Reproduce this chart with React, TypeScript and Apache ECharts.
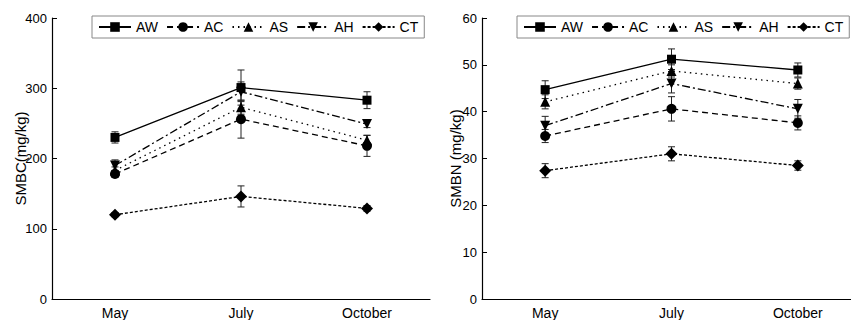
import React, { useEffect, useRef } from "react";
import * as echarts from "echarts";

const months = ["May", "July", "October"];
const seriesNames = ["AW", "AC", "AS", "AH", "CT"];

// SMBC (mg/kg)
const smbcAW = [230, 301, 283];
const smbcAC = [178, 256, 218];
const smbcAS = [183, 273, 226];
const smbcAH = [190, 295, 249];
const smbcCT = [120, 146, 129];
const smbcAWErr = [8, 25, 12];
const smbcACErr = [5, 27, 15];
const smbcASErr = [5, 10, 7];
const smbcAHErr = [8, 14, 5];
const smbcCTErr = [3, 15, 4];

// SMBN (mg/kg)
const smbnAW = [44.7, 51.2, 48.9];
const smbnAC = [34.8, 40.6, 37.6];
const smbnAS = [42.1, 48.7, 46.0];
const smbnAH = [37.0, 46.0, 40.6];
const smbnCT = [27.4, 31.0, 28.5];
const smbnAWErr = [1.9, 2.2, 1.5];
const smbnACErr = [1.4, 2.6, 1.5];
const smbnASErr = [1.5, 1.3, 1.2];
const smbnAHErr = [2.0, 2.0, 2.0];
const smbnCTErr = [1.5, 1.5, 1.0];

const FONT = "'Liberation Sans', Arial, sans-serif";

const styles: Record<string, any> = {
  AW: { symbol: "rect", size: 9, rotate: 0, dash: "solid" },
  AC: { symbol: "circle", size: 10, rotate: 0, dash: [6, 4] },
  AS: { symbol: "triangle", size: 10, rotate: 0, dash: [1.5, 4] },
  AH: { symbol: "triangle", size: 10, rotate: 180, dash: [8, 3, 2, 3] },
  CT: { symbol: "diamond", size: 12, rotate: 0, dash: [3, 2] },
};

function lineSeries(name: string, data: number[], idx: number) {
  const s = styles[name];
  return {
    type: "line",
    name,
    xAxisIndex: idx,
    yAxisIndex: idx,
    data,
    symbol: s.symbol,
    symbolSize: s.size,
    symbolRotate: s.rotate,
    showSymbol: true,
    z: 3,
    lineStyle: { color: "#000", width: 1.3, type: s.dash },
    itemStyle: { color: "#000" },
  };
}

function errSeries(name: string, data: number[], err: number[], idx: number) {
  return {
    type: "custom",
    name: name + "-err",
    xAxisIndex: idx,
    yAxisIndex: idx,
    z: 2,
    data: data.map((v, i) => [i, v - err[i], v + err[i]]),
    renderItem: (params: any, api: any) => {
      const lo = api.coord([api.value(0), api.value(1)]);
      const hi = api.coord([api.value(0), api.value(2)]);
      const w = 3.5;
      const st = { stroke: "#222", lineWidth: 1 };
      return {
        type: "group",
        children: [
          { type: "line", shape: { x1: lo[0], y1: lo[1], x2: hi[0], y2: hi[1] }, style: st },
          { type: "line", shape: { x1: lo[0] - w, y1: lo[1], x2: lo[0] + w, y2: lo[1] }, style: st },
          { type: "line", shape: { x1: hi[0] - w, y1: hi[1], x2: hi[0] + w, y2: hi[1] }, style: st },
        ],
      };
    },
  };
}

function axisX(gridIndex: number) {
  return {
    type: "category",
    gridIndex,
    data: months,
    boundaryGap: true,
    axisLine: { lineStyle: { color: "#000", width: 1.2 } },
    axisTick: { inside: true, alignWithLabel: true, length: 5, lineStyle: { color: "#000" } },
    axisLabel: { color: "#000", fontSize: 14, fontFamily: FONT, margin: 7 },
  };
}

function axisY(gridIndex: number, max: number, interval: number, name: string, gap: number) {
  return {
    type: "value",
    gridIndex,
    min: 0,
    max,
    interval,
    name,
    nameLocation: "middle",
    nameGap: gap,
    nameMoveOverlap: false,
    nameTextStyle: { color: "#000", fontSize: 15, fontFamily: FONT },
    axisLine: { show: true, lineStyle: { color: "#000", width: 1.2 } },
    axisTick: { show: true, inside: true, length: 5, lineStyle: { color: "#000" } },
    axisLabel: { color: "#000", fontSize: 13, fontFamily: FONT, margin: 5 },
    splitLine: { show: false },
  };
}

function legend(left: number) {
  return {
    data: seriesNames,
    left,
    top: 16,
    width: 400,
    orient: "horizontal",
    itemWidth: 32,
    itemHeight: 12,
    itemGap: 8,
    padding: [4, 6, 4, 6],
    borderColor: "#888",
    borderWidth: 1,
    selectedMode: false,
    textStyle: { color: "#000", fontSize: 14, fontFamily: FONT },
  };
}

export default function App() {
  const ref = useRef<HTMLDivElement>(null);
  useEffect(() => {
    if (!ref.current) return;
    const chart = echarts.init(ref.current, null, { renderer: "svg" });
    const left = [smbcAW, smbcAC, smbcAS, smbcAH, smbcCT];
    const leftErr = [smbcAWErr, smbcACErr, smbcASErr, smbcAHErr, smbcCTErr];
    const right = [smbnAW, smbnAC, smbnAS, smbnAH, smbnCT];
    const rightErr = [smbnAWErr, smbnACErr, smbnASErr, smbnAHErr, smbnCTErr];
    const series: any[] = [];
    seriesNames.forEach((n, i) => {
      series.push(errSeries(n + "L", left[i], leftErr[i], 0));
      series.push(errSeries(n + "R", right[i], rightErr[i], 1));
    });
    seriesNames.forEach((n, i) => {
      series.push(lineSeries(n, left[i], 0));
      series.push(lineSeries(n, right[i], 1));
    });
    chart.setOption({
      animation: false,
      backgroundColor: "#fff",
      textStyle: { fontFamily: FONT },
      legend: [legend(92), legend(517)],
      grid: [
        { left: 52, top: 18, width: 378, height: 281 },
        { left: 482, top: 18, width: 379, height: 281 },
      ],
      xAxis: [axisX(0), axisX(1)],
      yAxis: [axisY(0, 400, 100, "SMBC(mg/kg)", 24), axisY(1, 60, 10, "SMBN (mg/kg)", 19)],
      series,
    });
    return () => chart.dispose();
  }, []);
  return (
    <div style={{ position: "fixed", left: 0, top: 0, width: 851, height: 320, overflow: "hidden", background: "#fff" }}>
      <div ref={ref} style={{ width: 920, height: 320 }} />
    </div>
  );
}
